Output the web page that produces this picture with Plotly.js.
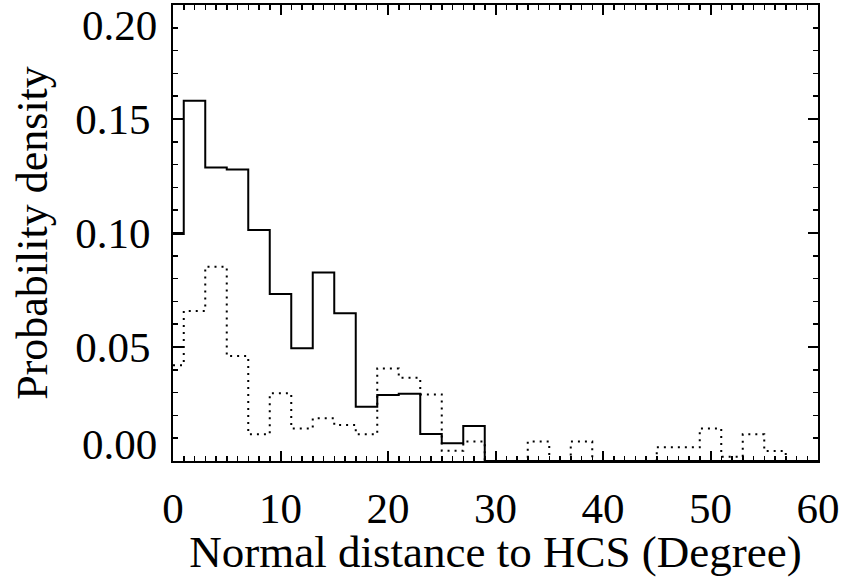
<!DOCTYPE html>
<html>
<head>
<meta charset="utf-8">
<script src="https://cdn.plot.ly/plotly-3.0.1.min.js"></script>
<style>html,body{margin:0;padding:0;background:#fff;}#chart{width:844px;height:577px;}</style>
</head>
<body>
<div id="chart"></div>
<script>
// Bin centres (degrees), bin width 2
var binCenters = [0,2,4,6,8,10,12,14,16,18,20,22,24,26,28,30,32,34,36,38,40,42,44,46,48,50,52,54,56,58,60];
// Solid histogram
var solidDensity = [0.0996,0.158,0.1287,0.1279,0.1013,0.0732,0.0494,0.0827,0.0648,0.0238,0.0289,0.0295,0.0118,0.0078,0.0154,0,0,0,0,0,0,0,0,0,0,0,0,0,0,0,0];
// Dotted histogram
var dottedDensity = [0.042,0.0658,0.0852,0.046,0.0117,0.0297,0.0143,0.0187,0.0158,0.0117,0.0406,0.0365,0.0292,0.0045,0.0085,0,0,0.0085,0,0.0085,0,0,0,0.006,0.006,0.0143,0.0019,0.0117,0.0044,0,0];
var xTickVals = [0,10,20,30,40,50,60];
var yTickVals = [0,0.05,0.10,0.15,0.20];
var yTickText = ['0.00','0.05','0.10','0.15','0.20'];
var xTitle = 'Normal distance to HCS (Degree)';
var yTitle = 'Probability density';

var font = 'Liberation Serif, Times New Roman, serif';
var traces = [
  {x: binCenters, y: dottedDensity, mode: 'lines', line: {shape: 'hvh', color: 'black', width: 2, dash: '2px,5px'}, hoverinfo: 'x+y'},
  {x: binCenters, y: solidDensity, mode: 'lines', line: {shape: 'hvh', color: 'black', width: 2}, hoverinfo: 'x+y'}
];
var axisCommon = {
  showline: true, linecolor: 'black', linewidth: 2, mirror: 'ticks',
  ticks: 'inside', ticklen: 10, tickwidth: 2, tickcolor: 'black',
  showgrid: false, zeroline: false,
  tickfont: {family: font, size: 43, color: 'black'}
};
// end labels (first and last) are drawn as annotations, nudged inward like the original
var innerText = yTickText.map(function(t, i){ return (i === 0 || i === yTickText.length - 1) ? '' : t; });
var endAnnotations = [
  {idx: 0, shift: 17},
  {idx: yTickVals.length - 1, shift: -20}
].map(function(e){
  return {xref: 'paper', yref: 'y', x: 0, y: yTickVals[e.idx], text: yTickText[e.idx],
          showarrow: false, xanchor: 'right', yanchor: 'middle', xshift: -15, yshift: e.shift,
          borderpad: 0,
          font: {family: font, size: 43, color: 'black'}};
});
var layout = {
  width: 844, height: 577,
  margin: {l: 173, r: 26, t: 5, b: 116},
  paper_bgcolor: 'white', plot_bgcolor: 'white',
  showlegend: false,
  annotations: endAnnotations,
  xaxis: Object.assign({}, axisCommon, {
    range: [0, 60], tickvals: xTickVals, ticktext: xTickVals.map(String),
    minor: {dtick: 1, ticklen: 5, tickwidth: 1.5, tickcolor: 'black', ticks: 'inside'},
    ticklabelstandoff: 8,
    title: {text: xTitle, font: {family: font, size: 45, color: 'black'}, standoff: 4}
  }),
  yaxis: Object.assign({}, axisCommon, {
    range: [0, 0.2], tickvals: yTickVals, ticktext: innerText,
    minor: {dtick: 0.01, ticklen: 5, tickwidth: 1.5, tickcolor: 'black', ticks: 'inside'},
    ticklabelstandoff: 12,
    title: {text: yTitle, font: {family: font, size: 44, color: 'black'}, standoff: 14}
  })
};
Plotly.newPlot('chart', traces, layout, {displayModeBar: false, staticPlot: true});
</script>
</body>
</html>
